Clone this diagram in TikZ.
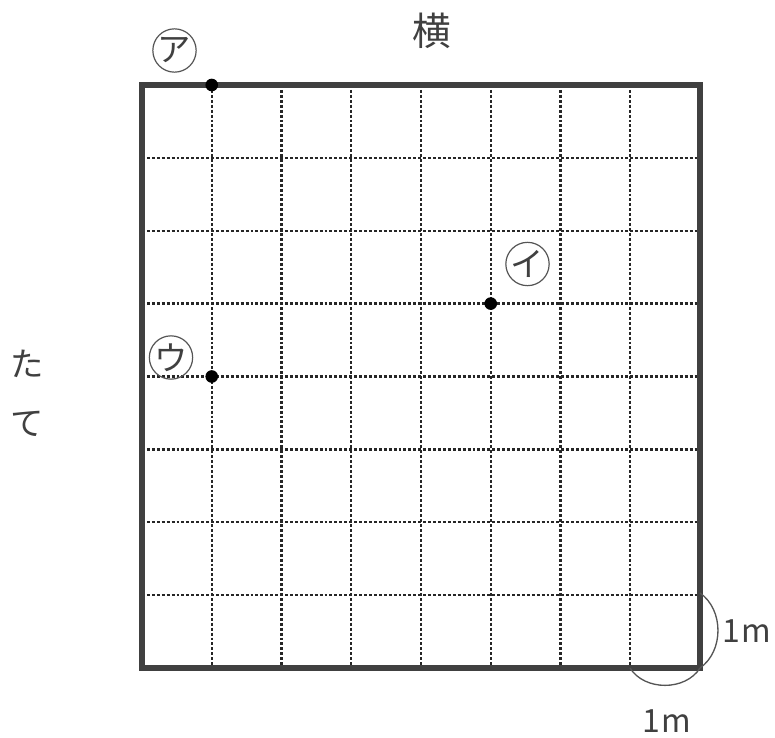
\documentclass[tikz,border=0pt]{standalone}
\usepackage{fontspec}
\newfontfamily\jpfont{Noto Sans CJK JP}
\definecolor{frame}{HTML}{404040}
\definecolor{arcgray}{HTML}{555555}

\tikzset{
  pt/.style={circle,fill=black,inner sep=0pt,minimum size=9.5pt},
  maru/.style={circle,draw=arcgray,line width=0.9pt,inner sep=0pt,minimum size=32.5pt},
  kana/.style={inner sep=0pt,font=\jpfont\fontsize{25}{25}\selectfont,text=frame},
  gridline/.style={line width=1.8pt,dash pattern=on 2.2pt off 1.5pt,color=black!85},
  label/.style={font=\jpfont\fontsize{#1}{#1}\selectfont,text=frame},
}

\begin{document}
\begin{tikzpicture}[x=0.75pt,y=-0.75pt]
	\useasboundingbox (0,0) rectangle (775,738);
	% dotted lines inside
	\foreach \i in {1,...,7}\draw[gridline] (142+\i*69.75,85)--(142+\i*69.75,668);
	\foreach \j in {1,...,7}\draw[gridline] (142,85+\j*72.875)--(700,85+\j*72.875);
	% outer frame
	\draw[frame,line width=4pt] (142,85) rectangle (700,668);
	\coordinate (corner) at (700,668);
	% points
	\node[pt] (pa) at (211.75,85) {};
	\node[pt] (pi) at (490.75,303.6) {};
	\node[pt] (pu) at (211.75,376.5) {};
	\node[maru] (la) at (174.5,50.5) {};
	\node[maru] (li) at (527.5,264) {};
	\node[maru] (lu) at (171,357.5) {};
	\node[kana] (ka) at (la) {ア};
	\node[kana] (ki) at (li) {イ};
	\node[kana] (ku) at (lu) {ウ};
	% 1m arcs
	\coordinate (r1) at (700,593);
	\coordinate (b1) at (630,668);
	\draw[arcgray,line width=1pt] (r1) to[bend left=55] (corner);
	\draw[arcgray,line width=1pt] (b1) to[bend right=58] (corner);
	\node[label=24,inner sep=0pt,anchor=east] (mr) at (771,631) {1\kern1pt m};
	\node[label=24] (mb) at (667,721) {1\kern1pt m};
	% titles
	\node[label=29] (yoko) at (432,31) {横};
	\node[label=25] (ta) at (27,364) {た};
	\node[label=25] (te) at (27,424) {て};
\end{tikzpicture}
\end{document}
